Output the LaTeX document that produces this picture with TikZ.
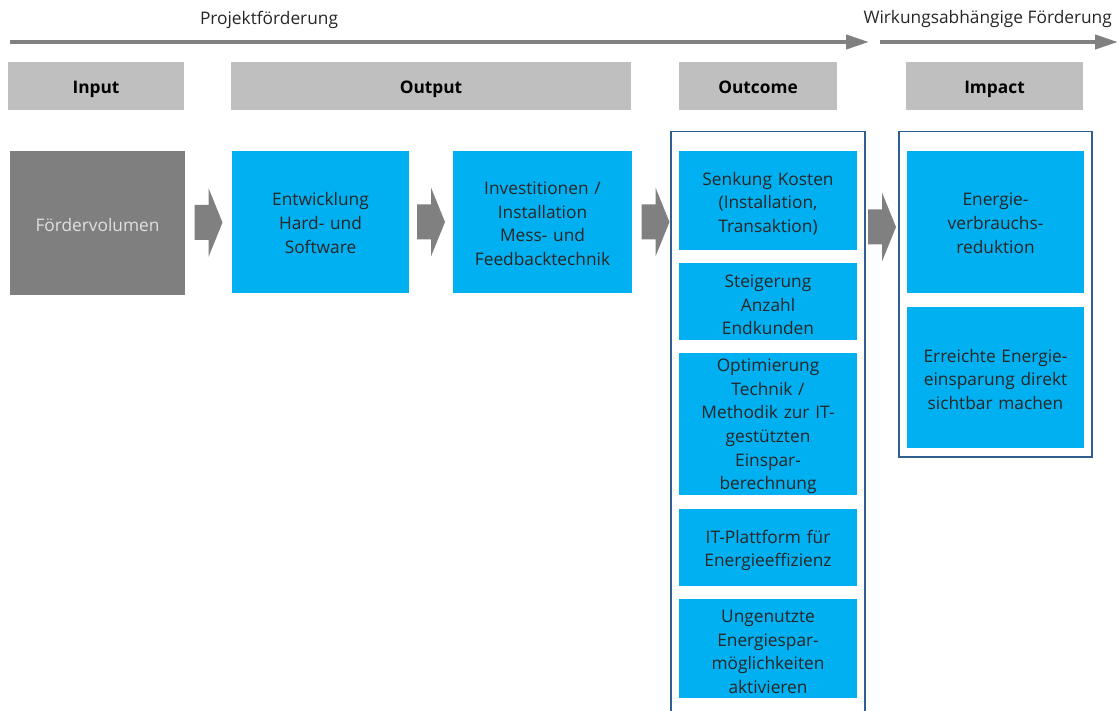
\documentclass[tikz,border=0pt]{standalone}
\usepackage{fontspec}
\setmainfont{Open Sans}
\usetikzlibrary{arrows.meta,calc}
\definecolor{cy}{HTML}{00B0F0}
\definecolor{hdr}{HTML}{BFBFBF}
\definecolor{dg}{HTML}{7F7F7F}
\definecolor{ag}{HTML}{808080}
\definecolor{fr}{HTML}{2F5F8F}
\tikzset{
  base/.style={inner xsep=2pt, inner ysep=0pt, align=center, font=\fontsize{17.3}{23.6}\selectfont},
  hdrbox/.style={base, fill=hdr, font=\fontsize{17.3}{20}\selectfont\bfseries, minimum height=48pt, text height=17pt, text depth=2.6pt},
  cbox/.style={base, fill=cy, text=black!85, text height=15pt},
  obox/.style={cbox, text height=19.5pt, minimum width=178pt, text width=172pt},
  gbox/.style={base, fill=dg, text=white!88!black, text height=18pt, text depth=1pt},
  frame/.style={draw=fr, line width=1.2pt},
  toparrow/.style={draw=ag, line width=4pt, -{Triangle[length=23pt,width=14pt]}},
  lbl/.style={font=\fontsize{17.3}{20}\selectfont, text=black!85, inner sep=0pt}
}
\newcommand{\blockarrow}[1]{%
  \fill[ag] ($(#1)+(-14,-17.5)$) -- ($(#1)+(0,-17.5)$) -- ($(#1)+(0,-34.5)$) -- ($(#1)+(14,0)$) -- ($(#1)+(0,34.5)$) -- ($(#1)+(0,17.5)$) -- ($(#1)+(-14,17.5)$) -- cycle;}
\begin{document}
\begin{tikzpicture}[x=1pt,y=-1pt]
\useasboundingbox (0,0) rectangle (1118,711);
% top arrows
\coordinate (a1s) at (10,42);
\coordinate (a1e) at (869,42);
\coordinate (a2s) at (880,42);
\coordinate (a2e) at (1118,42);
\draw[toparrow] (a1s) -- (a1e);
\draw[toparrow] (a2s) -- (a2e);
\node[lbl] (pf) at (269,20) {Projektförderung};
\node[lbl, anchor=east] (wf) at (1112,19) {Wirkungsabhängige Förderung};
% headers
\node[hdrbox, minimum width=176pt] (hin) at (96,86) {Input};
\node[hdrbox, minimum width=400pt] (hout) at (431,86) {Output};
\node[hdrbox, minimum width=158pt] (hoc) at (758,86) {Outcome};
\node[hdrbox, minimum width=177pt] (him) at (994.5,86) {Impact};
% frames
\draw[frame] (671,711.5) -- (671,131.5) -- (865,131.5) -- (865,711.5);
\draw[frame] (899,131.5) rectangle (1092,457);
% row
\node[gbox, minimum width=175pt, minimum height=144pt] (fv) at (97.5,223) {Fördervolumen};
\node[cbox, minimum width=177pt, minimum height=142pt, text width=170pt] (ent) at (320.5,222) {Entwicklung\\Hard- und\\Software};
\node[cbox, minimum width=179pt, minimum height=142pt, text width=172pt, text height=16pt] (inv) at (542.5,222) {Investitionen /\\Installation\\Mess- und\\Feedbacktechnik};
% outcome
\node[obox, minimum height=99pt] (o1) at (768,200.5) {Senkung Kosten\\(Installation,\\Transaktion)};
\node[obox, minimum height=77pt] (o2) at (768,301.5) {Steigerung\\Anzahl\\Endkunden};
\node[obox, minimum height=142pt, text height=17.5pt] (o3) at (768,424) {Optimierung\\Technik /\\Methodik zur IT-\\gestützten\\Einspar-\\berechnung};
\node[obox, minimum height=77pt] (o4) at (768,547.5) {IT-Plattform für\\Energieeffizienz};
\node[obox, minimum height=99pt] (o5) at (768,648.5) {Ungenutzte\\Energiespar-\\möglichkeiten\\aktivieren};
% impact
\node[cbox, minimum width=177pt, minimum height=142pt, text width=170pt] (i1) at (995.5,222) {Energie-\\verbrauchs-\\reduktion};
\node[cbox, minimum width=177pt, minimum height=141pt, text width=170pt, text height=17pt] (i2) at (995.5,377.5) {Erreichte Energie-\\einsparung direkt\\sichtbar machen};
% block arrows
\coordinate (m1) at ($(fv.east)!0.5!(ent.west)$);
\coordinate (m2) at ($(ent.east)!0.5!(inv.west)$);
\coordinate (m3) at ($(inv.east)!0.5!(o1.west |- inv.west)$);
\coordinate (m4) at (882,227);
\blockarrow{m1}
\blockarrow{m2}
\blockarrow{m3}
\blockarrow{m4}
\end{tikzpicture}
\end{document}
